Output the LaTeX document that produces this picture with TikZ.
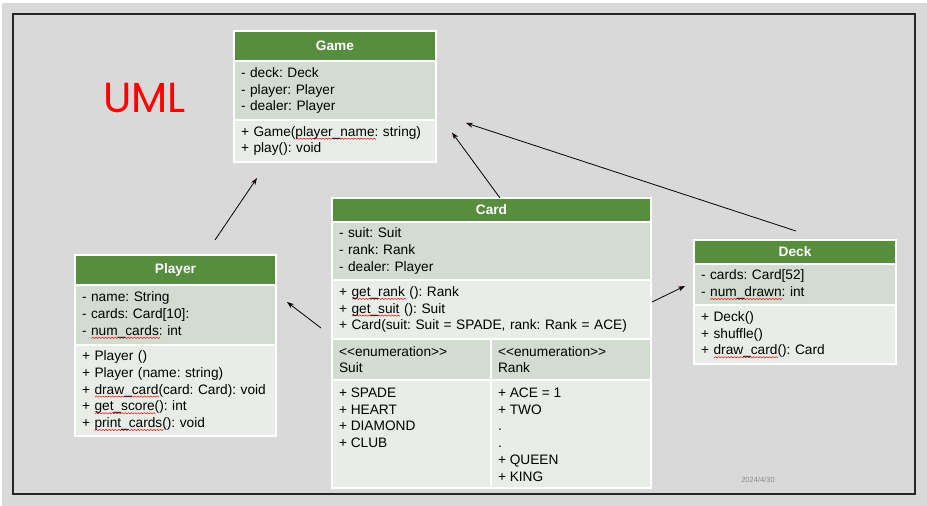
\documentclass[tikz,border=0pt]{standalone}
\usepackage{fontspec}
\setmainfont{Liberation Sans}
\newfontfamily\umlfont{Poppins}
\usetikzlibrary{positioning,calc,arrows.meta}
\frenchspacing

\definecolor{titlegreen}{HTML}{568E3D}
\definecolor{attrfill}{HTML}{D2DCD1}
\definecolor{opfill}{HTML}{E8EDE7}
\definecolor{slidebg}{HTML}{D9D9D9}
\definecolor{framegray}{HTML}{262626}
\definecolor{umlred}{HTML}{FF0000}
\definecolor{dategray}{HTML}{8A8A8A}

\newcommand{\umltext}{\fontsize{13.7}{16.7}\selectfont}

% red wavy spell-check mark under a word
\newdimen\spellx \newdimen\spellw \newcount\spelln
\newcommand{\wavebox}{%
  \begin{pgfpicture}%
    \pgfsetlinewidth{0.45pt}\pgfsetstrokecolor{red}%
    \spellx=0pt \spelln=0
    \pgfpathmoveto{\pgfqpoint{0pt}{0pt}}%
    \loop \advance\spellx by 1.6pt \advance\spelln by 1
      \ifodd\spelln \pgfpathlineto{\pgfqpoint{\spellx}{1.3pt}}\else \pgfpathlineto{\pgfqpoint{\spellx}{0pt}}\fi
    \ifdim\spellx<\spellw \repeat
    \pgfusepath{stroke}%
  \end{pgfpicture}}
\newcommand{\spell}[1]{%
  \setbox0=\hbox{#1}\spellw=\wd0\relax
  \leavevmode\rlap{\raisebox{-3.4pt}[0pt][0pt]{\wavebox}}\box0\relax}

\begin{document}
\begin{tikzpicture}[x=1pt,y=-1pt,
                    uml box/.style={rectangle,draw=white,line width=1.2pt,outer sep=0pt,
                                    inner xsep=7pt,inner ysep=0pt,font=\umltext,align=left},
                    title node/.style={uml box,fill=titlegreen,text=white,font=\umltext\bfseries,align=center},
                    attr node/.style={uml box,fill=attrfill},
                    op node/.style={uml box,fill=opfill},
                    assoc/.style={-{Stealth[length=7pt,width=5pt]},line width=0.8pt,black}]
  \useasboundingbox (0,0) rectangle (927,506);
  \fill[white] (0,0) rectangle (927,506);
  \fill[slidebg] (2,3) rectangle (927,506);
  \draw[line width=1.3pt,framegray] (13,14) rectangle (915,494);

  \node[text=umlred,font=\umlfont\fontsize{42}{42}\selectfont,inner sep=0pt,anchor=base west] (uml) at (103,112) {UML};

  % Game
  \node[title node,text width=188pt,minimum height=30pt,anchor=north] (game) at (335,31) {Game};
  \node[attr node,text width=188pt,minimum height=59pt,below=0pt of game] (game-a) {- deck: Deck\\- player: Player\\- dealer: Player};
  \node[op node,text width=188pt,minimum height=42pt,below=0pt of game-a] (game-o) {+ Game(\spell{player\_name}: string)\\+ play(): void};

  % Card
  \node[title node,text width=305pt,minimum height=24pt,anchor=north] (card) at (491.5,198) {Card};
  \node[attr node,text width=305pt,minimum height=58pt,below=0pt of card] (card-a) {- suit: Suit\\- rank: Rank\\- dealer: Player};
  \node[op node,text width=305pt,minimum height=59pt,below=0pt of card-a] (card-o) {+ \spell{get\_rank} (): Rank\\+ \spell{get\_suit} (): Suit\\+ Card(suit: Suit = SPADE, rank: Rank = ACE)};
  \node[attr node,text width=145pt,minimum height=41pt,anchor=north west] (suit-h) at (card-o.south west) {<\kern0pt<enumeration>\kern0pt>\\Suit};
  \node[attr node,text width=146pt,minimum height=41pt,right=0pt of suit-h] (rank-h) {<\kern0pt<enumeration>\kern0pt>\\Rank};
  \node[op node,minimum height=108pt,below=0pt of suit-h] (suit-b) {\parbox[c][92pt][t]{145pt}{+ SPADE\\+ HEART\\+ DIAMOND\\+ CLUB}};
  \node[op node,minimum height=108pt,below=0pt of rank-h] (rank-b) {\parbox[c][92pt][t]{146pt}{+ ACE = 1\\+ TWO\\.\\.\\+ QUEEN\\+ KING}};

  % Player
  \node[title node,text width=187pt,minimum height=30pt,anchor=north] (ply) at (175.5,255) {Player};
  \node[attr node,text width=187pt,minimum height=60pt,below=0pt of ply] (ply-a) {- name: String\\- cards: Card[10]:\\- \spell{num\_cards}: int};
  \node[op node,text width=187pt,minimum height=91pt,below=0pt of ply-a] (ply-o) {+ Player ()\\+ Player (name: string)\\+ \spell{draw\_card}(card: Card): void\\+ \spell{get\_score}(): int\\+ \spell{print\_cards}(): void};

  % Deck
  \node[title node,text width=188pt,minimum height=24pt,anchor=north] (deck) at (795,240) {Deck};
  \node[attr node,text width=188pt,minimum height=41pt,below=0pt of deck] (deck-a) {- cards: Card[52]\\- \spell{num\_drawn}: int};
  \node[op node,text width=188pt,minimum height=59pt,below=0pt of deck-a] (deck-o) {+ Deck()\\+ shuffle()\\+ \spell{draw\_card}(): Card};

  \node[font=\fontsize{7.5}{9}\selectfont,text=dategray] (date) at (758,480) {2024/4/30};

  \path[assoc]
    ($(ply.north)+(39.5,-15)$) edge ($(game-o.south)+(-78,16)$)
    ($(card.north)+(8.5,0)$) edge ($(game-o.east)+(16,-8.5)$)
    ($(deck.north)+(1,-9)$) edge ($(game-o.north east)+(30,3)$)
    ($(card-o.west)+(-11,18.5)$) edge ($(ply-a.east)+(11,-13)$)
    ($(card-o.east)+(1,-7.5)$) edge ($(deck-a.west)+(-9,1.5)$);
\end{tikzpicture}
\end{document}
